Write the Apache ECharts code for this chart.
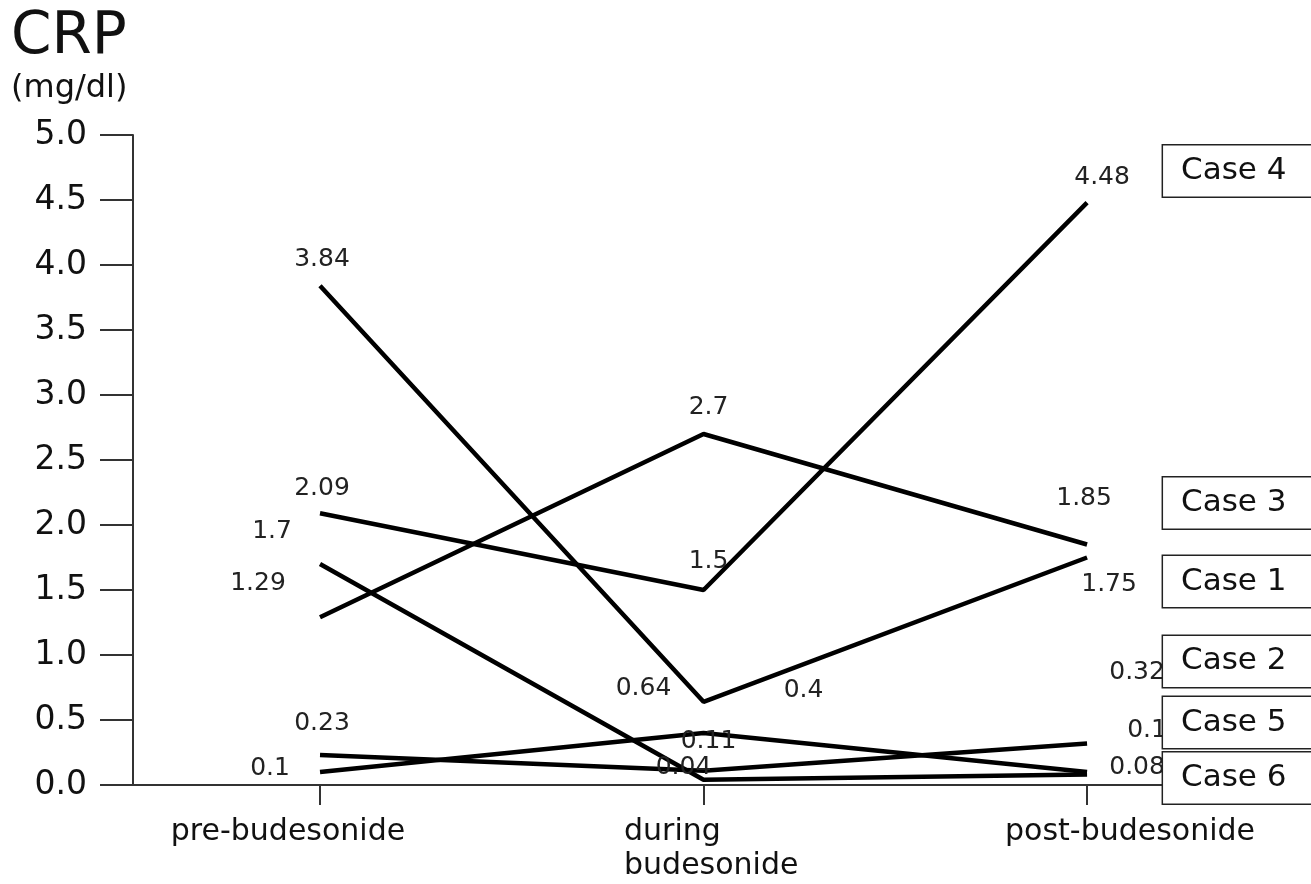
<!DOCTYPE html>
<html>
<head>
<meta charset="utf-8">
<title>CRP</title>
<script src="https://cdn.jsdelivr.net/npm/echarts@6/dist/echarts.min.js"></script>
<style>
  html, body { margin: 0; padding: 0; background: #fff; }
  #crp { width: 1311px; height: 884px; }
</style>
</head>
<body>
<div id="crp"></div>
<script>
// categories (x positions 0,1,2)
var categories = ['pre-budesonide', 'during\nbudesonide', 'post-budesonide'];
var caseNames = ['Case 1', 'Case 2', 'Case 3', 'Case 4', 'Case 5', 'Case 6'];

// CRP values (mg/dl) per case: pre, during, post
var case1 = [3.84, 0.64, 1.75];
var case2 = [0.23, 0.11, 0.32];
var case3 = [1.29, 2.7, 1.85];
var case4 = [2.09, 1.5, 4.48];
var case5 = [0.1, 0.4, 0.1];
var case6 = [1.7, 0.04, 0.08];

var yTicks = [0, 0.5, 1, 1.5, 2, 2.5, 3, 3.5, 4, 4.5, 5];

// where the value labels sit relative to their point (px)
var labelOffsets = [
  [[2, -26], [-60, -13], [22, 27]],
  [[2, -32], [5, -29], [50, -71]],
  [[-62, -34], [5, -27], [-3, -46]],
  [[2, -25], [5, -29], [15, -25]],
  [[-50, -4], [100, -43], [60, -42]],
  [[-48, -33], [-20, -12], [50, -7]]
];
// shift of the "Case n" boxes from the last point (px)
var boxOffsets = [[71, 24], [71, -82], [71, -41.5], [71, -31.5], [71, -49.5], [71, 3.5]];

var FONT = 'DejaVu Sans';
var allCases = [case1, case2, case3, case4, case5, case6];

function makeSeries(idx) {
  var vals = allCases[idx];
  return {
    name: caseNames[idx],
    type: 'line',
    symbol: 'circle',
    symbolSize: 0,
    lineStyle: { color: '#000', width: 4.5 },
    itemStyle: { color: '#000' },
    data: vals.map(function (v, i) {
      return { value: [i, v], label: { offset: labelOffsets[idx][i] } };
    }),
    label: {
      show: true,
      position: 'inside',
      align: 'center',
      verticalAlign: 'middle',
      fontFamily: FONT,
      fontSize: 25,
      color: '#222',
      formatter: function (p) { return String(p.value[1]); }
    },
    endLabel: {
      show: true,
      distance: 5,
      offset: boxOffsets[idx],
      align: 'left',
      verticalAlign: 'middle',
      formatter: caseNames[idx],
      fontFamily: FONT,
      fontSize: 31,
      lineHeight: 31,
      color: '#111',
      backgroundColor: '#fff',
      borderColor: '#222',
      borderWidth: 1.5,
      padding: [10, 120, 10, 18]
    },
    emphasis: { disabled: true }
  };
}

var chart = echarts.init(document.getElementById('crp'));
chart.setOption({
  animation: false,
  backgroundColor: '#fff',
  title: {
    text: 'CRP',
    subtext: '(mg/dl)',
    left: 6,
    top: 4,
    itemGap: 6,
    textStyle: { fontFamily: FONT, fontSize: 58, fontWeight: 'normal', color: '#111' },
    subtextStyle: { fontFamily: FONT, fontSize: 32, color: '#111' }
  },
  grid: { left: 133, right: 148, top: 135, bottom: 99 },
  xAxis: {
    type: 'value',
    min: -0.4876,
    max: 2.198,
    splitLine: { show: false },
    axisLine: { show: true, onZero: false, lineStyle: { color: '#333', width: 2 } },
    axisTick: { show: true, length: 20, customValues: [0, 1, 2], lineStyle: { color: '#333', width: 2 } },
    axisLabel: {
      customValues: [0, 1, 2],
      margin: 30,
      color: '#111',
      fontFamily: FONT,
      fontSize: 30,
      lineHeight: 34,
      formatter: function (v) {
        var i = Math.round(v);
        if (i === 0) return '{a|' + categories[0] + '}';
        if (i === 1) return categories[1].split('\n').map(function (s) { return '{b|' + s + '}'; }).join('\n');
        return '{c|' + categories[2] + '}';
      },
      rich: {
        a: { fontFamily: FONT, fontSize: 30, lineHeight: 34, color: '#111', padding: [0, 64, 0, 0] },
        b: { fontFamily: FONT, fontSize: 30, lineHeight: 34, color: '#111', width: 180, align: 'left', padding: [0, 0, 0, 21] },
        c: { fontFamily: FONT, fontSize: 30, lineHeight: 34, color: '#111', padding: [0, 0, 0, 86] }
      }
    }
  },
  yAxis: {
    type: 'value',
    min: 0,
    max: 5,
    interval: 0.5,
    splitLine: { show: false },
    axisLine: { show: true, onZero: false, lineStyle: { color: '#333', width: 2 } },
    axisTick: { show: true, length: 33, lineStyle: { color: '#333', width: 2 } },
    axisLabel: {
      margin: 46,
      color: '#111',
      fontFamily: FONT,
      fontSize: 33,
      customValues: yTicks,
      formatter: function (v) { return v.toFixed(1); }
    }
  },
  series: caseNames.map(function (n, i) { return makeSeries(i); })
});
</script>
</body>
</html>
